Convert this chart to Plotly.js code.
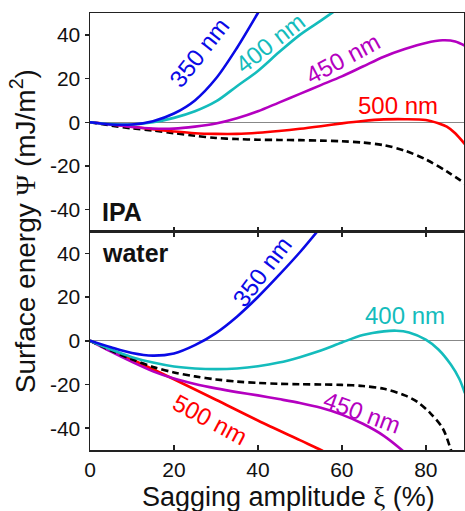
<!DOCTYPE html>
<html>
<head>
<meta charset="utf-8">
<script src="https://cdn.plot.ly/plotly-3.0.1.min.js"></script>
<style>html,body{margin:0;padding:0;background:#fff;}#chart{width:465px;height:511px;}</style>
</head>
<body>
<div id="chart"></div>
<script>
// ---- Data ----
// IPA panel (top)
const ipaX350 = [0, 5, 10, 15, 20, 25, 30, 35, 40, 43];
const ipaY350 = [0, -1, -1, 0.5, 4, 10, 20, 34, 50, 60];
const ipaX400 = [0, 5, 10, 15, 20, 25, 30, 35, 40, 45, 50, 55, 58, 60];
const ipaY400 = [0, -0.8, -1, 0, 2, 5, 9.5, 16.5, 23.5, 32, 40, 46.5, 50.5, 53];
const ipaX450 = [0, 5, 10, 15, 20, 25, 30, 35, 40, 45, 50, 55, 60, 65, 70, 75, 80, 84, 87, 89.3];
const ipaY450 = [0, -1, -2.2, -2.9, -2.9, -2, -0.6, 1.8, 5, 9, 13, 17, 21, 25.5, 30, 33.5, 36.3, 37.5, 37, 35];
const ipaX500 = [0, 5, 10, 15, 20, 25, 30, 35, 40, 45, 50, 55, 60, 65, 70, 75, 80, 83, 85, 87, 89.3];
const ipaY500 = [0, -0.9, -2, -3.2, -4.2, -5, -5.3, -5.3, -4.8, -4, -3, -1.8, -0.5, 0.6, 1.3, 1.4, 1, -0.5, -2, -5, -10];
const ipaXRef = [0, 5, 10, 15, 20, 25, 30, 35, 40, 45, 50, 55, 60, 65, 70, 75, 80, 85, 89.3];
const ipaYRef = [0, -1.5, -2.8, -3.8, -5, -6.2, -7.2, -7.7, -8, -8.1, -8.2, -8.4, -8.7, -9.3, -10.5, -13, -17, -22.5, -28];

// water panel (bottom)
const watX350 = [0, 5, 10, 15, 20, 25, 30, 35, 40, 45, 50, 55];
const watY350 = [0, -3, -5.6, -6.8, -5.8, -2, 3.5, 11, 20, 30, 40.5, 52];
const watX400 = [0, 5, 10, 15, 20, 25, 30, 35, 40, 45, 50, 55, 60, 65, 70, 73, 76, 80, 83, 86, 88, 89.3];
const watY400 = [0, -4, -7.5, -10, -11.8, -12.7, -13, -12.7, -11.7, -10, -7.5, -4.5, -0.8, 2.6, 4.3, 4.6, 3.8, 0.5, -4, -11, -17.5, -24];
const watX450 = [0, 5, 10, 15, 20, 25, 30, 35, 40, 45, 50, 55, 60, 65, 70, 74.3, 76];
const watY450 = [0, -5, -9.7, -14, -17.3, -19.8, -21.8, -23.5, -25, -26.7, -28.5, -30.7, -33.8, -38, -43.5, -50, -53];
const watX500 = [0, 5, 10, 20, 30, 40, 50, 55, 57];
const watY500 = [0, -4.3, -8.6, -17.6, -27, -36.5, -45.5, -50, -52];
const watXRef = [0, 5, 10, 15, 20, 25, 30, 35, 40, 45, 50, 55, 60, 65, 70, 75, 78, 81, 84, 86, 87];
const watYRef = [0, -4.5, -8.5, -12, -14.5, -16.3, -17.7, -18.7, -19.3, -19.7, -19.9, -20, -20.2, -20.7, -22, -25, -28, -33, -40, -50, -56];

const xTicks = [0, 20, 40, 60, 80];
const xTickText = ['0', '20', '40', '60', '80'];
const yTicks = [-40, -20, 0, 20, 40];
const yTickText = ['-40', '-20', '0', '20', '40'];

const seriesNames = ['350 nm', '400 nm', '450 nm', '500 nm'];
const panelNames = ['IPA', 'water'];

// ---- Styles ----
const C = {b: '#0a0ae6', c: '#14bcbc', m: '#b400c0', r: '#ff0000', k: '#000000'};
const LW = 2.6;
const FONT = 'Liberation Sans, Arial, sans-serif';

function tr(x, y, color, xa, ya, dash) {
  return {x: x, y: y, type: 'scatter', mode: 'lines', xaxis: xa, yaxis: ya,
    line: {color: color, width: LW, shape: 'spline', smoothing: 0.9, dash: dash || 'solid'},
    hoverinfo: 'skip', showlegend: false};
}

const data = [
  tr(ipaXRef, ipaYRef, C.k, 'x2', 'y2', '7px,4px'),
  tr(ipaX500, ipaY500, C.r, 'x2', 'y2'),
  tr(ipaX450, ipaY450, C.m, 'x2', 'y2'),
  tr(ipaX400, ipaY400, C.c, 'x2', 'y2'),
  tr(ipaX350, ipaY350, C.b, 'x2', 'y2'),
  tr(watX500, watY500, C.r, 'x', 'y'),
  tr(watX450, watY450, C.m, 'x', 'y'),
  tr(watXRef, watYRef, C.k, 'x', 'y', '7px,4px'),
  tr(watX400, watY400, C.c, 'x', 'y'),
  tr(watX350, watY350, C.b, 'x', 'y')
];

const axisLine = {showline: true, linecolor: '#222', linewidth: 1.5, showgrid: false};
const tickFont = {family: FONT, size: 21, color: '#111'};

function yAxis(domain) {
  return Object.assign({}, axisLine, {
    domain: domain, range: [-50, 50], tickmode: 'array', tickvals: yTicks, ticktext: yTickText,
    ticks: 'outside', ticklen: 4, tickwidth: 1.5, tickcolor: '#222', mirror: true,
    zeroline: true, zerolinecolor: '#888', zerolinewidth: 1, tickfont: tickFont, fixedrange: true
  });
}

function lab(text, x, y, ax, color, angle, size, bold) {
  return {text: bold ? '<b>' + text + '</b>' : text, x: x, y: y, xref: ax[0], yref: ax[1],
    showarrow: false, textangle: angle, xanchor: 'center', yanchor: 'middle',
    font: {family: FONT, size: size, color: color}};
}

const topAx = ['x2', 'y2'], botAx = ['x', 'y'];
const LS = 24;
const annotations = [
  lab(seriesNames[0], 26.0, 32, topAx, C.b, -52, LS),
  lab(seriesNames[1], 43.0, 36.5, topAx, C.c, -38, LS),
  lab(seriesNames[2], 60.2, 29, topAx, C.m, -28, LS),
  lab(seriesNames[3], 73.3, 7.5, topAx, C.r, 0, LS),
  lab(panelNames[0], 7.6, -41, topAx, '#111', 0, 25, true),
  lab(panelNames[1], 10.9, 40, botAx, '#111', 0, 25, true),
  lab(seriesNames[0], 41, 31.7, botAx, C.b, -53, LS),
  lab(seriesNames[1], 75, 11.4, botAx, C.c, 0, LS),
  lab(seriesNames[2], 64.8, -33, botAx, C.m, 20, LS),
  lab(seriesNames[3], 28.6, -36, botAx, C.r, 28, LS),
  {text: 'Surface energy <span style="font-family:Liberation Serif, serif">Ψ</span> (mJ/m<sup>2</sup>)',
   xref: 'paper', yref: 'paper', x: -0.18, y: 0.5, xanchor: 'center', yanchor: 'middle',
   textangle: -90, showarrow: false, font: {family: FONT, size: 28, color: '#111'}},
  {text: 'Sagging amplitude <span style="font-family:Liberation Serif, serif">ξ</span> (%)',
   xref: 'paper', yref: 'paper', x: 0.532, y: -0.108, xanchor: 'center', yanchor: 'middle',
   showarrow: false, font: {family: FONT, size: 27, color: '#111'}}
];

const layout = {
  width: 465, height: 511,
  margin: {l: 90, r: 1, t: 13, b: 61},
  paper_bgcolor: '#fff', plot_bgcolor: '#fff',
  showlegend: false,
  font: {family: FONT, color: '#111'},
  xaxis: Object.assign({}, axisLine, {
    domain: [0, 1], range: [0, 89.1], anchor: 'y', tickmode: 'array', tickvals: xTicks, ticktext: xTickText,
    ticks: 'inside', ticklen: 5, tickwidth: 1.5, tickcolor: '#222', mirror: 'ticks', zeroline: false,
    tickfont: tickFont, fixedrange: true
  }),
  xaxis2: Object.assign({}, axisLine, {
    domain: [0, 1], range: [0, 89.1], anchor: 'y2', tickmode: 'array', tickvals: xTicks,
    ticks: 'inside', ticklen: 5, tickwidth: 1.5, tickcolor: '#222', mirror: true, zeroline: false,
    showticklabels: false, fixedrange: true
  }),
  yaxis: Object.assign(yAxis([0, 0.5]), {anchor: 'x'}),
  yaxis2: Object.assign(yAxis([0.5, 1]), {anchor: 'x2'}),
  annotations: annotations
};

Plotly.newPlot('chart', data, layout, {displayModeBar: false, staticPlot: true});
</script>
</body>
</html>
